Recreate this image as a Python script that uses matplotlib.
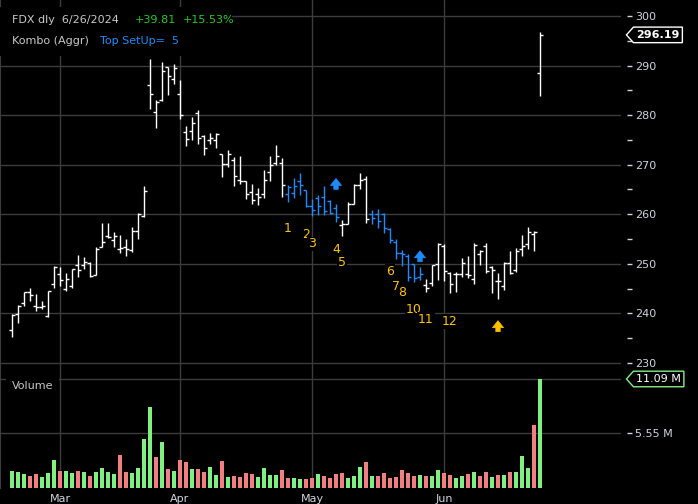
import numpy as np
import matplotlib.pyplot as plt
from matplotlib.path import Path
from matplotlib.transforms import blended_transform_factory

# daily bars, Feb 20 .. Jun 26 2024 (index = trading day)
opens = [236.6, 239.8, 242.1, 244.2, 241.5, 241.3, 239.4, 245.9, 248.0, 245.0,
         245.6, 249.8, 249.8, 250.2, 247.8, 253.3, 255.6, 254.8, 252.9, 253.3,
         252.7, 256.6, 259.6, 286.0, 280.7, 283.1, 289.8, 287.2, 284.2, 276.5,
         276.7, 280.4, 275.7, 274.9, 274.9, 272.2, 270.2, 271.0, 266.9, 266.7,
         264.4, 264.1, 264.1, 268.6, 270.3, 270.4, 264.1, 264.2, 266.6, 264.9,
         261.6, 263.2, 263.4, 262.7, 261.2, 257.8, 258.1, 262.0, 265.9, 267.2,
         260.0, 260.1, 260.1, 257.1, 254.4, 252.2, 251.5, 249.9, 247.4, 245.8,
         246.2, 250.0, 253.5, 248.2, 247.9, 247.9, 247.9, 247.0, 252.0, 253.5,
         249.4, 246.5, 245.6, 250.2, 248.8, 252.9, 253.9, 256.0, 288.4]
highs = [239.8, 241.6, 244.3, 245.1, 243.9, 242.5, 244.5, 249.5, 249.4, 248.2,
         248.9, 251.7, 251.4, 250.4, 253.4, 258.2, 258.2, 256.4, 255.8, 254.9,
         257.4, 260.3, 265.6, 291.3, 283.0, 290.8, 289.8, 290.4, 287.0, 277.9,
         279.6, 281.1, 275.9, 276.4, 276.4, 272.2, 273.0, 271.5, 271.7, 266.7,
         266.0, 265.3, 269.0, 271.7, 273.9, 271.4, 265.9, 267.4, 268.3, 264.9,
         263.0, 263.9, 265.7, 262.8, 262.0, 258.9, 262.5, 266.1, 268.3, 267.7,
         260.8, 261.0, 260.3, 257.3, 254.9, 252.7, 252.0, 250.0, 249.4, 247.0,
         249.7, 254.2, 254.0, 248.3, 248.3, 251.2, 251.5, 254.2, 252.7, 254.2,
         249.5, 248.1, 250.3, 252.5, 253.2, 255.9, 257.4, 256.7, 296.8]
lows = [235.2, 238.1, 241.5, 242.5, 240.5, 240.8, 239.2, 245.2, 245.5, 244.5,
        245.2, 247.4, 248.9, 247.4, 247.7, 253.3, 255.1, 253.4, 252.1, 251.6,
        252.4, 255.0, 259.5, 281.2, 277.4, 282.8, 284.1, 286.3, 279.3, 273.7,
        274.9, 274.2, 272.0, 274.2, 273.4, 267.5, 269.5, 265.7, 266.1, 263.0,
        262.0, 261.8, 263.2, 266.8, 269.9, 263.4, 262.5, 263.3, 263.9, 261.5,
        259.7, 259.8, 259.8, 260.1, 258.4, 255.5, 258.0, 262.0, 265.0, 258.2,
        258.1, 257.2, 256.2, 254.1, 250.9, 249.6, 246.6, 246.3, 246.8, 244.3,
        245.5, 246.8, 246.6, 244.1, 244.3, 247.3, 247.2, 246.0, 249.7, 248.2,
        244.1, 242.8, 244.8, 248.0, 248.3, 251.5, 252.9, 252.5, 283.8]
closes = [239.7, 241.5, 244.2, 243.7, 241.3, 241.5, 244.5, 249.3, 246.7, 246.9,
          248.9, 248.7, 250.4, 247.6, 252.9, 254.4, 255.3, 255.6, 253.2, 253.0,
          256.6, 260.1, 264.7, 284.3, 282.6, 289.0, 287.8, 289.6, 280.1, 275.2,
          278.5, 275.4, 273.4, 275.4, 276.2, 270.2, 272.2, 267.8, 266.7, 264.1,
          262.9, 263.4, 266.9, 270.0, 271.7, 265.9, 265.5, 265.7, 265.9, 261.7,
          260.8, 261.6, 260.7, 260.3, 259.5, 258.1, 262.0, 265.9, 266.9, 259.1,
          259.3, 258.6, 257.2, 254.7, 252.2, 252.0, 247.4, 247.1, 248.0, 245.2,
          249.7, 253.9, 248.5, 246.0, 247.9, 250.1, 247.8, 253.7, 252.5, 248.5,
          248.8, 246.5, 250.1, 248.1, 252.5, 253.6, 256.4, 256.38, 296.19]
volume = [1.75, 1.65, 1.45, 1.24, 1.45, 1.14, 1.55, 2.86, 1.75, 1.75,
          1.55, 1.75, 1.65, 1.24, 1.65, 2.05, 1.65, 1.45, 3.36, 1.65,
          1.55, 2.05, 4.98, 8.24, 3.16, 4.68, 1.95, 1.75, 2.86, 2.66,
          1.95, 1.95, 1.65, 2.15, 1.35, 2.76, 1.14, 1.24, 1.14, 1.55,
          1.45, 1.14, 2.05, 1.35, 1.35, 1.85, 1.04, 1.04, 0.94, 0.94,
          1.04, 1.45, 1.24, 1.04, 1.45, 1.55, 1.04, 1.24, 2.15, 2.66,
          1.24, 1.24, 1.55, 1.04, 1.14, 1.85, 1.55, 1.24, 1.35, 1.24,
          1.24, 1.85, 1.55, 1.35, 1.04, 1.24, 1.45, 1.65, 1.24, 1.65,
          1.14, 1.35, 1.35, 1.65, 1.65, 3.26, 2.05, 6.39, 11.09]  # millions

setup_bars = list(range(46, 55)) + list(range(60, 69))
count_lbl = ["1", "2", "3", "4", "5", "6", "7", "8", "10", "11", "12"]
count_idx = [46, 49, 50, 54, 55, 63, 64, 65, 67, 69, 73]
count_y = [257.2, 256.0, 254.0, 252.9, 250.2, 248.4, 245.4, 244.2, 240.8, 238.8, 238.4]
arrow_idx = [54, 68, 81]
arrow_lo = [265.0, 250.4, 236.3]
arrow_hi = [267.2, 252.6, 238.5]
arrow_col = ["#1a8cff", "#1a8cff", "#ffc000"]

month_lbl = ["Mar", "Apr", "May", "Jun"]
month_idx = [8, 28, 50, 72]
price_ticks = [230, 240, 250, 260, 270, 280, 290, 300]
price_minor = [230, 235, 240, 245, 250, 255, 260, 265, 270, 275, 280, 285, 290, 295, 300]
vol_ticks = [5.55, 11.09]

WHITE = "#ffffff"
BLUE = "#1a8cff"
GRID = "#3c3c3c"
TXT = "#d0d4dc"
UP = "#80f080"
DN = "#f08080"

W, H = 698, 504


def px(x0, y0, x1, y1):
    return [x0 / W, 1 - y1 / H, (x1 - x0) / W, (y1 - y0) / H]


def tag_box(x0, y0, width, height, mutation_size, *args):
    pad = 0.25 * mutation_size
    x0, y0 = x0 - pad, y0 - pad
    width, height = width + 2 * pad, height + 2 * pad
    x1, y1 = x0 + width, y0 + height
    tip = 0.45 * height
    return Path([(x0, y0), (x1, y0), (x1, y1), (x0, y1),
                 (x0 - tip, y0 + height / 2), (x0, y0)], closed=True)


fig = plt.figure(figsize=(6.98, 5.04), dpi=100, facecolor="black")
ax = fig.add_axes(px(0, 0, 621, 372))
axv = fig.add_axes(px(0, 372, 621, 488), sharex=ax)

for a in (ax, axv):
    a.set_facecolor("black")
    for s in ("top", "bottom", "right"):
        a.spines[s].set_visible(False)
    a.spines["left"].set_color(GRID)
    a.spines["right"].set_position(("outward", 4.3))
    a.yaxis.tick_right()
    a.set_xticks(month_idx)
    a.grid(True, color=GRID, lw=1)
    a.set_axisbelow(True)
    a.tick_params(axis="y", which="both", colors=TXT, length=3.6, width=1,
                  pad=2.5, labelsize=8)
    a.tick_params(axis="x", length=0, colors=TXT, labelsize=8, pad=4)

x = np.arange(len(closes))
cols = [BLUE if i in setup_bars else WHITE for i in x]
ax.vlines(x, lows, highs, colors=cols, lw=1)
ax.hlines(opens, x - 0.45, x, colors=cols, lw=1)
ax.hlines(closes, x, x + 0.45, colors=cols, lw=1)

ax.set_yticks(price_ticks)
ax.set_yticks(price_minor, minor=True)
ax.set_xlim(-2, 101.5)
ax.set_ylim(228.15, 303.23)
ax.tick_params(axis="x", labelbottom=False)

# setup counts and arrows
for lbl, i, y in zip(count_lbl, count_idx, count_y):
    ax.text(i, y, lbl, color="#ffc400", fontsize=9, ha="center", va="center",
            bbox=dict(fc="black", ec="none", pad=0.6), zorder=4)
for i, lo, hi, c in zip(arrow_idx, arrow_lo, arrow_hi, arrow_col):
    ax.annotate("", xy=(i, hi), xytext=(i, lo),
                arrowprops=dict(arrowstyle="simple,head_length=0.5,head_width=0.8,tail_width=0.32",
                                fc=c, ec=c, lw=0.5, shrinkA=0, shrinkB=0,
                                mutation_scale=10), zorder=4)

# last price tag
tr = blended_transform_factory(ax.transAxes, ax.transData)
ax.text(1.0245, closes[-1], f"{closes[-1]:.2f}", transform=tr, color=WHITE,
        fontsize=8, fontweight="bold", va="center", ha="left", zorder=6,
        clip_on=False,
        bbox=dict(boxstyle=tag_box, fc="black", ec=WHITE, lw=1))

# header
ax.add_patch(plt.Rectangle((0, 0.85), 0.374, 0.13, transform=ax.transAxes,
                           fc="black", ec="none", zorder=3))
chg = closes[-1] - closes[-2]
hdr = [(12, 20, "FDX dly  6/26/2024", "#c8c8c8"),
       (135, 20, f"+{chg:.2f}", "#22cc22"),
       (183, 20, f"+{chg / closes[-2] * 100:.2f}%", "#22cc22"),
       (12, 41, "Kombo (Aggr)", "#c8c8c8"),
       (100, 41, "Top SetUp=  5", BLUE)]
for hx, hy, s, c in hdr:
    fig.text(hx / W, 1 - hy / H, s, color=c, fontsize=8, va="center", ha="left",
             zorder=5)

# volume panel
vcols = [UP] + [UP if closes[i] >= closes[i - 1] else DN for i in range(1, len(closes))]
axv.bar(x, volume, width=0.65, color=vcols, zorder=2)
axv.set_yticks(vol_ticks, labels=["5.55 M", ""])
axv.set_ylim(0, 11.8)
axv.set_xticks(month_idx, labels=month_lbl)
axv.text(0.019, 0.88, "Volume", transform=axv.transAxes, color="#c8c8c8",
         fontsize=8, va="center", ha="left", zorder=5,
         bbox=dict(fc="black", ec="none", pad=4))
trv = blended_transform_factory(axv.transAxes, axv.transData)
axv.text(1.0245, volume[-1], f"{volume[-1]:.2f} M", transform=trv, color=WHITE,
         fontsize=8, va="center", ha="left", zorder=6, clip_on=False,
         bbox=dict(boxstyle=tag_box, fc="black", ec=UP, lw=1))

fig.savefig("out.png", dpi=100, facecolor="black")
